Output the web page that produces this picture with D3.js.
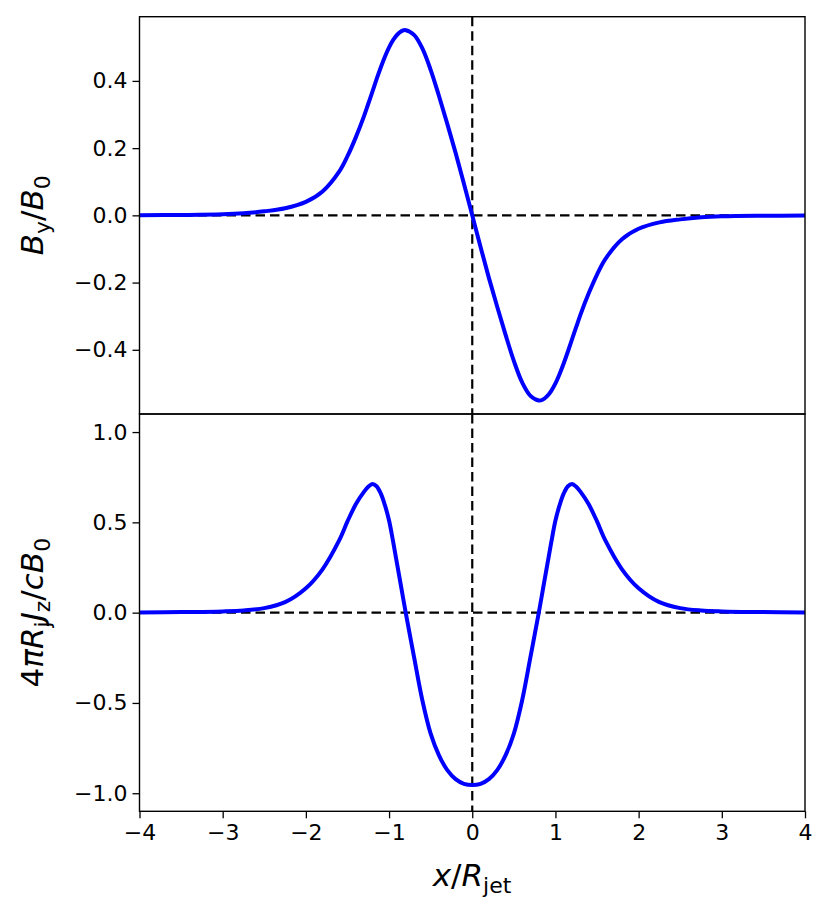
<!DOCTYPE html>
<html lang="en">
<head>
  <meta charset="utf-8">
  <title>B_y and J_z profiles</title>
  <script src="https://d3js.org/d3.v7.min.js"></script>
  <style>
    body { margin: 0; background: #fff; }
    text { font-family: "DejaVu Sans", sans-serif; fill: #000; }
  </style>
</head>
<body>
<div id="my_dataviz"></div>
<script>

// x positions (x / R_jet)
const xVals = [-4, -3.5, -3, -2.75, -2.5, -2.25, -2, -1.8, -1.6, -1.5, -1.4, -1.3, -1.25, -1.2, -1.15, -1.1, -1.05, -1, -0.95, -0.9, -0.85, -0.8, -0.7, -0.6, -0.5, -0.4, -0.3, -0.2, -0.1,
               0,
               0.1, 0.2, 0.3, 0.4, 0.5, 0.6, 0.7, 0.8, 0.85, 0.9, 0.95, 1, 1.05, 1.1, 1.15, 1.2, 1.25, 1.3, 1.4, 1.5, 1.6, 1.8, 2, 2.25, 2.5, 2.75, 3, 3.5, 4];

// top panel: B_y / B_0
const byVals = [0.0005, 0.0012, 0.003, 0.006, 0.012, 0.021, 0.040, 0.071, 0.13, 0.176, 0.232, 0.296, 0.332, 0.368, 0.405, 0.44, 0.472, 0.50, 0.522, 0.538, 0.548, 0.551, 0.537, 0.497, 0.433, 0.355, 0.272, 0.186, 0.094,
                0,
                -0.094, -0.186, -0.272, -0.355, -0.433, -0.497, -0.537, -0.551, -0.548, -0.538, -0.522, -0.50, -0.472, -0.44, -0.405, -0.368, -0.332, -0.296, -0.232, -0.176, -0.13, -0.071, -0.040, -0.021, -0.012, -0.006, -0.003, -0.0012, -0.0005];

// bottom panel: 4 pi R_j J_z / c B_0
const jzVals = [0.001, 0.003, 0.007, 0.012, 0.025, 0.058, 0.135, 0.24, 0.40, 0.505, 0.60, 0.67, 0.697, 0.713, 0.70, 0.66, 0.595, 0.51, 0.39, 0.26, 0.13, 0.0, -0.245, -0.485, -0.67, -0.79, -0.872, -0.922, -0.948,
                -0.955,
                -0.948, -0.922, -0.872, -0.79, -0.67, -0.485, -0.245, 0.0, 0.13, 0.26, 0.39, 0.51, 0.595, 0.66, 0.70, 0.713, 0.697, 0.67, 0.60, 0.505, 0.40, 0.24, 0.135, 0.058, 0.025, 0.012, 0.007, 0.003, 0.001];

// tick labels
const xTicks = [-4, -3, -2, -1, 0, 1, 2, 3, 4];
const byTicks = [-0.4, -0.2, 0.0, 0.2, 0.4];
const jzTicks = [-1.0, -0.5, 0.0, 0.5, 1.0];

const W = 830, H = 916;
const pLeft = 139.5, pRight = 805, pTop = 16.7, pMid = 414, pBottom = 811.3;

const svg = d3.select("#my_dataviz")
  .append("svg")
    .attr("width", W)
    .attr("height", H);

// scales
const x = d3.scaleLinear().domain([-4, 4]).range([pLeft, pRight]);
const yTop = d3.scaleLinear().domain([-0.591, 0.591]).range([pMid, pTop]);
const yBot = d3.scaleLinear().domain([-1.1, 1.1]).range([pBottom, pMid]);

const data = xVals.map((v, i) => ({x: v, by: byVals[i], jz: jzVals[i]}));

function panel(y, key, ticks, y0, y1) {
  const g = svg.append("g");

  // dashed zero lines
  g.append("line")
    .attr("x1", x(-4)).attr("x2", x(4))
    .attr("y1", y(0)).attr("y2", y(0))
    .attr("stroke", "#000").attr("stroke-width", 2.2)
    .attr("stroke-dasharray", "9.5,5");
  g.append("line")
    .attr("x1", x(0)).attr("x2", x(0))
    .attr("y1", y0).attr("y2", y1)
    .attr("stroke", "#000").attr("stroke-width", 2.2)
    .attr("stroke-dasharray", "9.5,5");

  // curve
  const line = d3.line()
    .x(d => x(d.x))
    .y(d => y(d[key]))
    .curve(d3.curveCatmullRom.alpha(0.5));
  g.append("path")
    .datum(data)
    .attr("fill", "none")
    .attr("stroke", "#0000ff")
    .attr("stroke-width", 4)
    .attr("stroke-linejoin", "round")
    .attr("d", line);

  // Y axis
  const ax = g.append("g")
    .attr("transform", `translate(${pLeft},0)`)
    .call(d3.axisLeft(y).tickValues(ticks).tickFormat(d3.format(".1f")).tickSize(7).tickPadding(5));
  ax.select(".domain").remove();
  ax.selectAll(".tick line").attr("stroke-width", 1.3);
  ax.selectAll("text").style("font-size", "22px").style("font-family", "DejaVu Sans");

  // frame
  g.append("rect")
    .attr("x", pLeft).attr("y", y0)
    .attr("width", pRight - pLeft).attr("height", y1 - y0)
    .attr("fill", "none").attr("stroke", "#000").attr("stroke-width", 1.4);
}

panel(yTop, "by", byTicks, pTop, pMid);
panel(yBot, "jz", jzTicks, pMid, pBottom);

// Add X axis
const xa = svg.append("g")
  .attr("transform", `translate(0,${pBottom})`)
  .call(d3.axisBottom(x).tickValues(xTicks).tickFormat(d3.format("d")).tickSize(7).tickPadding(6));
xa.select(".domain").remove();
xa.selectAll(".tick line").attr("stroke-width", 1.3);
xa.selectAll("text").style("font-size", "22px").style("font-family", "DejaVu Sans");

// labels built from italic / upright pieces
function mathLabel(parent, parts) {
  const t = parent.append("text")
    .attr("text-anchor", "middle")
    .style("font-size", "31px");
  let shift = 0;
  parts.forEach(p => {
    const want = p.sub ? 6.5 : 0;
    t.append("tspan")
      .attr("dy", want - shift)
      .style("font-style", p.it ? "italic" : "normal")
      .style("font-size", p.sub ? "22px" : "31px")
      .text(p.s);
    shift = want;
  });
  return t;
}

mathLabel(svg.append("g").attr("transform", "translate(472,886)"), [
  {s: "x", it: true}, {s: "/"}, {s: "R", it: true}, {s: "jet", sub: true}
]);

mathLabel(svg.append("g").attr("transform", `translate(43,${(pTop + pMid) / 2}) rotate(-90)`), [
  {s: "B", it: true}, {s: "y", sub: true}, {s: "/"}, {s: "B", it: true}, {s: "0", sub: true}
]);

mathLabel(svg.append("g").attr("transform", `translate(43,${(pMid + pBottom) / 2}) rotate(-90)`), [
  {s: "4"}, {s: "\u03c0", it: true}, {s: "R", it: true}, {s: "j", sub: true},
  {s: "J", it: true}, {s: "z", sub: true}, {s: "/"}, {s: "c", it: true}, {s: "B", it: true}, {s: "0", sub: true}
]);

</script>
</body>
</html>
